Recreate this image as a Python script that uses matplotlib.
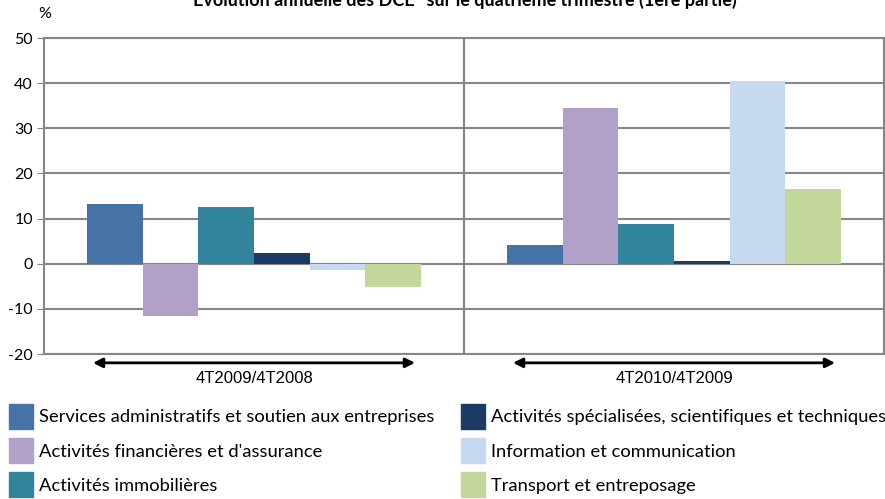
import matplotlib
matplotlib.use("Agg")
import matplotlib.pyplot as plt
from matplotlib.patches import Patch
import numpy as np

plt.rcParams["font.family"] = ["Lato", "DejaVu Sans"]
plt.rcParams["axes.unicode_minus"] = False

periods = ["4T2009/4T2008", "4T2010/4T2009"]
sectors = [
    "Services administratifs et soutien aux entreprises",
    "Activités financières et d'assurance",
    "Activités immobilières",
    "Activités spécialisées, scientifiques et techniques",
    "Information et communication",
    "Transport et entreposage",
]
values = [
    [13.2, 4.1],
    [-11.5, 34.6],
    [12.6, 8.7],
    [2.3, 0.7],
    [-1.5, 40.5],
    [-5.1, 16.5],
]
colors = ["#4572A7", "#B1A0C7", "#31849B", "#1B3A64", "#C6D9F1", "#C4D79B"]
yticks = [-20, -10, 0, 10, 20, 30, 40, 50]

grey = "#868686"
fig = plt.figure(figsize=(8.85, 4.99), dpi=100)
ax = fig.add_axes([44 / 885, 1 - 354 / 499, 840 / 885, 316 / 499])

x = np.arange(len(periods))
w = 0.1325
for i, (name, vals, c) in enumerate(zip(sectors, values, colors)):
    ax.bar(x + (i - 2.5) * w, vals, w, color=c, label=name, zorder=3)

ax.set_xlim(-0.5, 1.5)
ax.set_ylim(-20, 50)
ax.set_yticks(yticks)
ax.set_xticks([])
ax.grid(axis="y", color=grey, lw=1.5, zorder=0)
ax.axvline(0.5, color=grey, lw=1.5, zorder=1)
for s in ax.spines.values():
    s.set_color(grey)
    s.set_linewidth(1.5)
ax.tick_params(axis="y", length=5, color=grey, labelsize=11.5, pad=3)

# period arrows below the plot
for xi, lab in zip(x, periods):
    ax.annotate("", xy=(xi - 0.39, -0.028), xytext=(xi + 0.39, -0.028),
                xycoords=("data", "axes fraction"), textcoords=("data", "axes fraction"),
                arrowprops=dict(arrowstyle="<|-|>", color="black", lw=2, mutation_scale=14),
                annotation_clip=False)
    ax.text(xi, -0.079, lab, transform=ax.get_xaxis_transform(), ha="center", va="center",
            fontsize=12, family="Liberation Sans")

fig.text(45 / 885, 1 - 14 / 499, "%", ha="center", va="center", fontsize=11.5)
fig.text(465 / 885, 1.0, "Evolution annuelle des DCE* sur le quatrième trimestre (1ère partie)",
         ha="center", va="center", fontsize=13, fontweight="bold")

handles = [Patch(color=c) for c in colors]
leg_kw = dict(frameon=False, fontsize=13.2, handlelength=1.31, handleheight=1.72,
              handletextpad=0.33, labelspacing=0.5, borderaxespad=0, borderpad=0)
fig.legend(handles[:3], sectors[:3], loc="upper left", bbox_to_anchor=(9 / 885, 1 - 404 / 499), **leg_kw)
fig.legend(handles[3:], sectors[3:], loc="upper left", bbox_to_anchor=(461 / 885, 1 - 404 / 499), **leg_kw)

fig.savefig("out.png", dpi=100)
